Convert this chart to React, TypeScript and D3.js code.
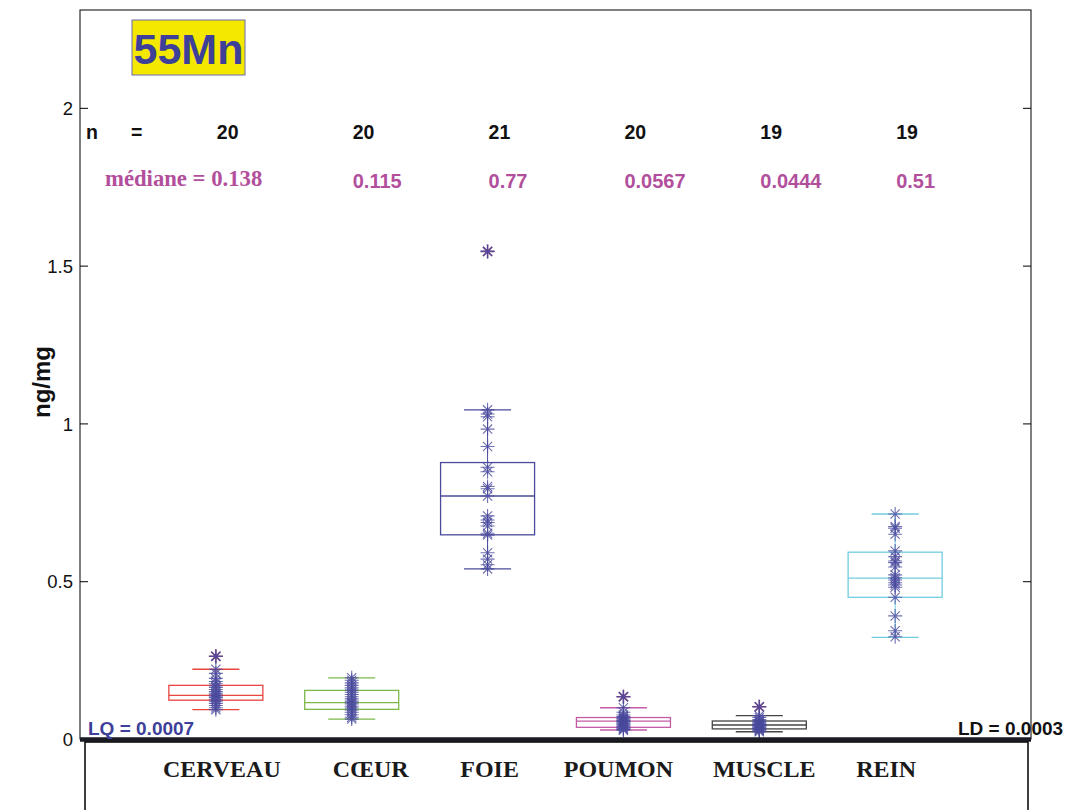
import React, { useEffect, useRef } from 'react';
import * as d3 from 'd3';

// organ labels, counts and medians printed on the chart
const categories = ['CERVEAU', 'CŒUR', 'FOIE', 'POUMON', 'MUSCLE', 'REIN'];
const counts = [20, 20, 21, 20, 19, 19];
const medians = [0.138, 0.115, 0.77, 0.0567, 0.0444, 0.51];
const medianLabels = ['0.138', '0.115', '0.77', '0.0567', '0.0444', '0.51'];

// box statistics
const q1 = [0.123, 0.094, 0.647, 0.037, 0.032, 0.449];
const q3 = [0.170, 0.154, 0.876, 0.068, 0.057, 0.592];
const whiskerLo = [0.093, 0.063, 0.539, 0.0285, 0.023, 0.322];
const whiskerHi = [0.221, 0.194, 1.043, 0.099, 0.074, 0.713];
const outliers = [[0.262], [], [1.545], [0.134], [0.102], []];

// individual measurements (ng/mg)
const cerveau = [0.262, 0.221, 0.208, 0.192, 0.182, 0.175, 0.168, 0.163, 0.157, 0.150, 0.145, 0.140, 0.136, 0.131, 0.126, 0.120, 0.113, 0.106, 0.099, 0.093];
const coeur = [0.194, 0.186, 0.178, 0.170, 0.162, 0.155, 0.148, 0.141, 0.134, 0.127, 0.120, 0.115, 0.111, 0.104, 0.098, 0.092, 0.085, 0.077, 0.069, 0.063];
const foie = [1.545, 1.043, 1.030, 1.021, 0.982, 0.927, 0.861, 0.847, 0.800, 0.793, 0.770, 0.707, 0.694, 0.686, 0.675, 0.652, 0.646, 0.590, 0.570, 0.552, 0.539];
const poumon = [0.134, 0.099, 0.085, 0.076, 0.071, 0.067, 0.064, 0.061, 0.058, 0.057, 0.056, 0.053, 0.050, 0.047, 0.044, 0.040, 0.036, 0.033, 0.030, 0.028];
const muscle = [0.102, 0.074, 0.068, 0.062, 0.058, 0.055, 0.051, 0.048, 0.046, 0.044, 0.043, 0.041, 0.039, 0.036, 0.033, 0.031, 0.028, 0.025, 0.023];
const rein = [0.713, 0.673, 0.668, 0.649, 0.596, 0.578, 0.564, 0.559, 0.545, 0.520, 0.511, 0.504, 0.495, 0.488, 0.481, 0.449, 0.390, 0.343, 0.324];
const points = [cerveau, coeur, foie, poumon, muscle, rein];

const yTicks = [0, 0.5, 1, 1.5, 2];

// layout
const boxColors = ['#e8453f', '#7cb84a', '#4b4b9b', '#c45aa6', '#444444', '#72cde0'];
const labelShift = [6, 19, 2, -5, 5, -9];
const starColor = '#4a4a9e';
const outlierColor = '#7d4280';
const textBlue = '#3d3f99';
const magenta = '#b24f9c';
const sans = '"Liberation Sans", Arial, Helvetica, sans-serif';
const serif = '"Liberation Serif", "Times New Roman", serif';

const left = 80, right = 1031, top = 10, bottom = 739;

const x = d3.scaleLinear().domain([0, 7]).range([left, right]);
const y = d3.scaleLinear().domain([0, 2.31]).range([bottom, top]);

const starPath = 'M-7,0H7M0,-7V7M-4.6,-4.6L4.6,4.6M-4.6,4.6L4.6,-4.6';

export default function App() {
  const axisRef = useRef<SVGGElement>(null);

  useEffect(() => {
    const g = d3.select(axisRef.current);
    g.selectAll('*').remove();
    const yl = g.append('g')
      .attr('transform', `translate(${left},0)`)
      .call(d3.axisLeft(y).tickValues(yTicks).tickSizeInner(-8).tickSizeOuter(0).tickPadding(7).tickFormat(d3.format('')));
    const yr = g.append('g')
      .attr('transform', `translate(${right},0)`)
      .call(d3.axisRight(y).tickValues(yTicks).tickSizeInner(-8).tickSizeOuter(0).tickFormat(() => ''));
    [yl, yr].forEach(a => {
      a.select('.domain').remove();
      a.selectAll('line').attr('stroke', '#000').attr('stroke-width', 1);
    });
    yl.selectAll('text')
      .attr('font-family', sans)
      .attr('font-size', 18.5)
      .attr('fill', '#111')
      .attr('dy', '0.36em');
  }, []);

  const cw = x(1) - x(0);
  const boxHalf = cw * 0.346;
  const capHalf = cw * 0.173;

  return (
    <svg width={1068} height={810} style={{ position: 'absolute', left: 0, top: 0, background: '#fff' }}>
      <rect x={0} y={0} width={1068} height={810} fill="#fff" />
      {/* plot frame */}
      <rect x={left} y={top} width={right - left} height={bottom - top} fill="none" stroke="#000" strokeWidth={1} />

      {/* boxes */}
      {categories.map((c, i) => {
        const cx = x(i + 1);
        const col = boxColors[i];
        return (
          <g key={c}>
            <line x1={cx} x2={cx} y1={y(whiskerHi[i])} y2={y(q3[i])} stroke={col} strokeWidth={1} />
            <line x1={cx} x2={cx} y1={y(q1[i])} y2={y(whiskerLo[i])} stroke={col} strokeWidth={1} />
            <line x1={cx - capHalf} x2={cx + capHalf} y1={y(whiskerHi[i])} y2={y(whiskerHi[i])} stroke={col} strokeWidth={1.3} />
            <line x1={cx - capHalf} x2={cx + capHalf} y1={y(whiskerLo[i])} y2={y(whiskerLo[i])} stroke={col} strokeWidth={1.3} />
            <rect x={cx - boxHalf} y={y(q3[i])} width={boxHalf * 2} height={y(q1[i]) - y(q3[i])} fill="none" stroke={col} strokeWidth={1.3} />
            <line x1={cx - boxHalf} x2={cx + boxHalf} y1={y(medians[i])} y2={y(medians[i])} stroke={col} strokeWidth={1.3} />
            {outliers[i].map((v, k) => (
              <path key={k} d={starPath} transform={`translate(${cx},${y(v)})`} stroke={outlierColor} strokeWidth={1.6} fill="none" />
            ))}
            {points[i].map((v, k) => (
              <path key={'p' + k} d={starPath} transform={`translate(${cx},${y(v)})`} stroke={starColor} strokeWidth={1.1} strokeOpacity={0.8} fill="none" />
            ))}
          </g>
        );
      })}

      <g ref={axisRef} />

      {/* thick baseline and lower label box */}
      <line x1={left} x2={right} y1={bottom + 0.5} y2={bottom + 0.5} stroke="#1b1b24" strokeWidth={4.5} />
      <rect x={85} y={742} width={943} height={80} fill="none" stroke="#000" strokeWidth={1.5} />
      {categories.map((c, i) => (
        <text key={c} x={x(i + 1) + labelShift[i]} y={777} textAnchor="middle" fontFamily={serif} fontWeight="bold" fontSize={24} fill="#1a1a1a">{c}</text>
      ))}

      {/* title */}
      <rect x={132} y={20} width={113} height={55} fill="#f4e800" stroke="#6b6bb0" strokeWidth={1} />
      <text x={188.5} y={64} textAnchor="middle" fontFamily={sans} fontWeight="bold" fontSize={43} fill={textBlue}>55Mn</text>

      {/* y label */}
      <text transform="translate(50,382) rotate(-90)" textAnchor="middle" fontFamily={sans} fontWeight="bold" fontSize={24} fill="#111">ng/mg</text>

      {/* n row */}
      <text x={86} y={139} fontFamily={sans} fontWeight="bold" fontSize={19.5} fill="#111">n</text>
      <text x={131} y={139} fontFamily={sans} fontWeight="bold" fontSize={19.5} fill="#111">=</text>
      {counts.map((n, i) => (
        <text key={i} x={x(i + 1) + 1} y={139} fontFamily={sans} fontWeight="bold" fontSize={19.5} fill="#111">{n}</text>
      ))}

      {/* medians row */}
      <text x={105} y={186} fontFamily={serif} fontWeight="bold" fontSize={22.7} fill={magenta}>médiane = {medianLabels[0]}</text>
      {medianLabels.slice(1).map((m, i) => (
        <text key={i} x={x(i + 2) + 1} y={188} fontFamily={sans} fontWeight="bold" fontSize={20} fill={magenta}>{m}</text>
      ))}

      {/* LQ / LD */}
      <text x={88} y={735} fontFamily={sans} fontWeight="bold" fontSize={19} fill={textBlue}>LQ = 0.0007</text>
      <text x={958} y={735} fontFamily={sans} fontWeight="bold" fontSize={19} fill="#111">LD = 0.0003</text>
    </svg>
  );
}
